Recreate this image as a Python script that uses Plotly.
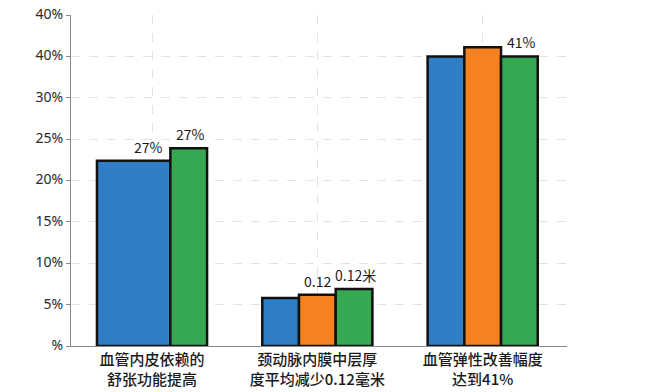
import plotly.graph_objects as go

categories = ["血管内皮依赖的<br>舒张功能提高", "颈动脉内膜中层厚<br>度平均减少0.12毫米", "血管弹性改善幅度<br>达到41%"]
blue_vals = [22.4, 5.8, 35.0]
orange_vals = [None, 6.2, 36.1]
green_vals = [23.9, 6.9, 35.0]
blue_labels = ["27%", "", ""]
orange_labels = ["", "0.12", ""]
green_labels = ["27%", "0.12米", "41%"]
y_tickvals = [0, 5, 10, 15, 20, 25, 30, 35, 40]
y_ticktext = ["%", "5%", "10%", "15%", "20%", "25%", "30%", "40%", "40%"]

w = 0.222
BLUE, ORANGE, GREEN = "#2f7ec6", "#f5821f", "#35a852"
line = dict(color="#111111", width=2.5)

fig = go.Figure()
fig.add_trace(go.Bar(x=categories, y=blue_vals, marker=dict(color=BLUE, line=line),
                     offset=[-1.5 * w] * 3, width=[2 * w, w, w], showlegend=False))
ox = [c for c, v in zip(categories, orange_vals) if v is not None]
oy = [v for v in orange_vals if v is not None]
fig.add_trace(go.Bar(x=ox, y=oy, marker=dict(color=ORANGE, line=line),
                     offset=-0.5 * w, width=w, showlegend=False))
fig.add_trace(go.Bar(x=categories, y=green_vals, marker=dict(color=GREEN, line=line),
                     offset=0.5 * w, width=w, showlegend=False))

font_lbl = dict(family="Noto Sans CJK SC, Noto Sans, sans-serif", size=14, color="#1a1a1a")
for i, (v, t) in enumerate(zip(blue_vals, blue_labels)):
    if t:
        fig.add_annotation(x=i - 0.02, y=v, text=t, showarrow=False, yanchor="bottom", yshift=2, font=font_lbl)
for i, (v, t) in enumerate(zip(orange_vals, orange_labels)):
    if t and v is not None:
        fig.add_annotation(x=i, y=v, text=t, showarrow=False, yanchor="bottom", yshift=2, font=font_lbl)
for i, (v, t) in enumerate(zip(green_vals, green_labels)):
    if t:
        fig.add_annotation(x=i + w + 0.01, y=v, text=t, showarrow=False, yanchor="bottom", yshift=2, font=font_lbl)

fig.update_layout(
    width=650, height=392,
    margin=dict(l=71, r=83, t=15, b=46, autoexpand=False),
    paper_bgcolor="white", plot_bgcolor="white",
    barmode="overlay",
    font=dict(family="Noto Sans CJK SC, Noto Sans, sans-serif", color="#222"),
)
fig.update_xaxes(
    type="category", range=[-0.49, 2.51],
    showgrid=True, gridcolor="#e2e2e2", griddash="dash", gridwidth=1,
    showline=True, linecolor="#8a8a8a", linewidth=1.2,
    ticks="", tickfont=dict(size=15, color="#1a1a1a", family="Noto Sans CJK SC", weight=500),
    automargin=False,
)
fig.update_yaxes(
    range=[0, 40], tickvals=y_tickvals, ticktext=y_ticktext,
    showgrid=True, gridcolor="#e2e2e2", griddash="dash", gridwidth=1,
    showline=True, linecolor="#8a8a8a", linewidth=1.2,
    ticks="outside", ticklen=4, tickcolor="#8a8a8a",
    tickfont=dict(size=14, color="#2a2a2a", family="Noto Sans, sans-serif"),
    ticklabeloverflow="allow", ticklabelshift=-1,
    zeroline=False, automargin=False,
)

fig.write_html("out.html", config={"displayModeBar": False},
               post_script="document.body.style.margin='0';")
